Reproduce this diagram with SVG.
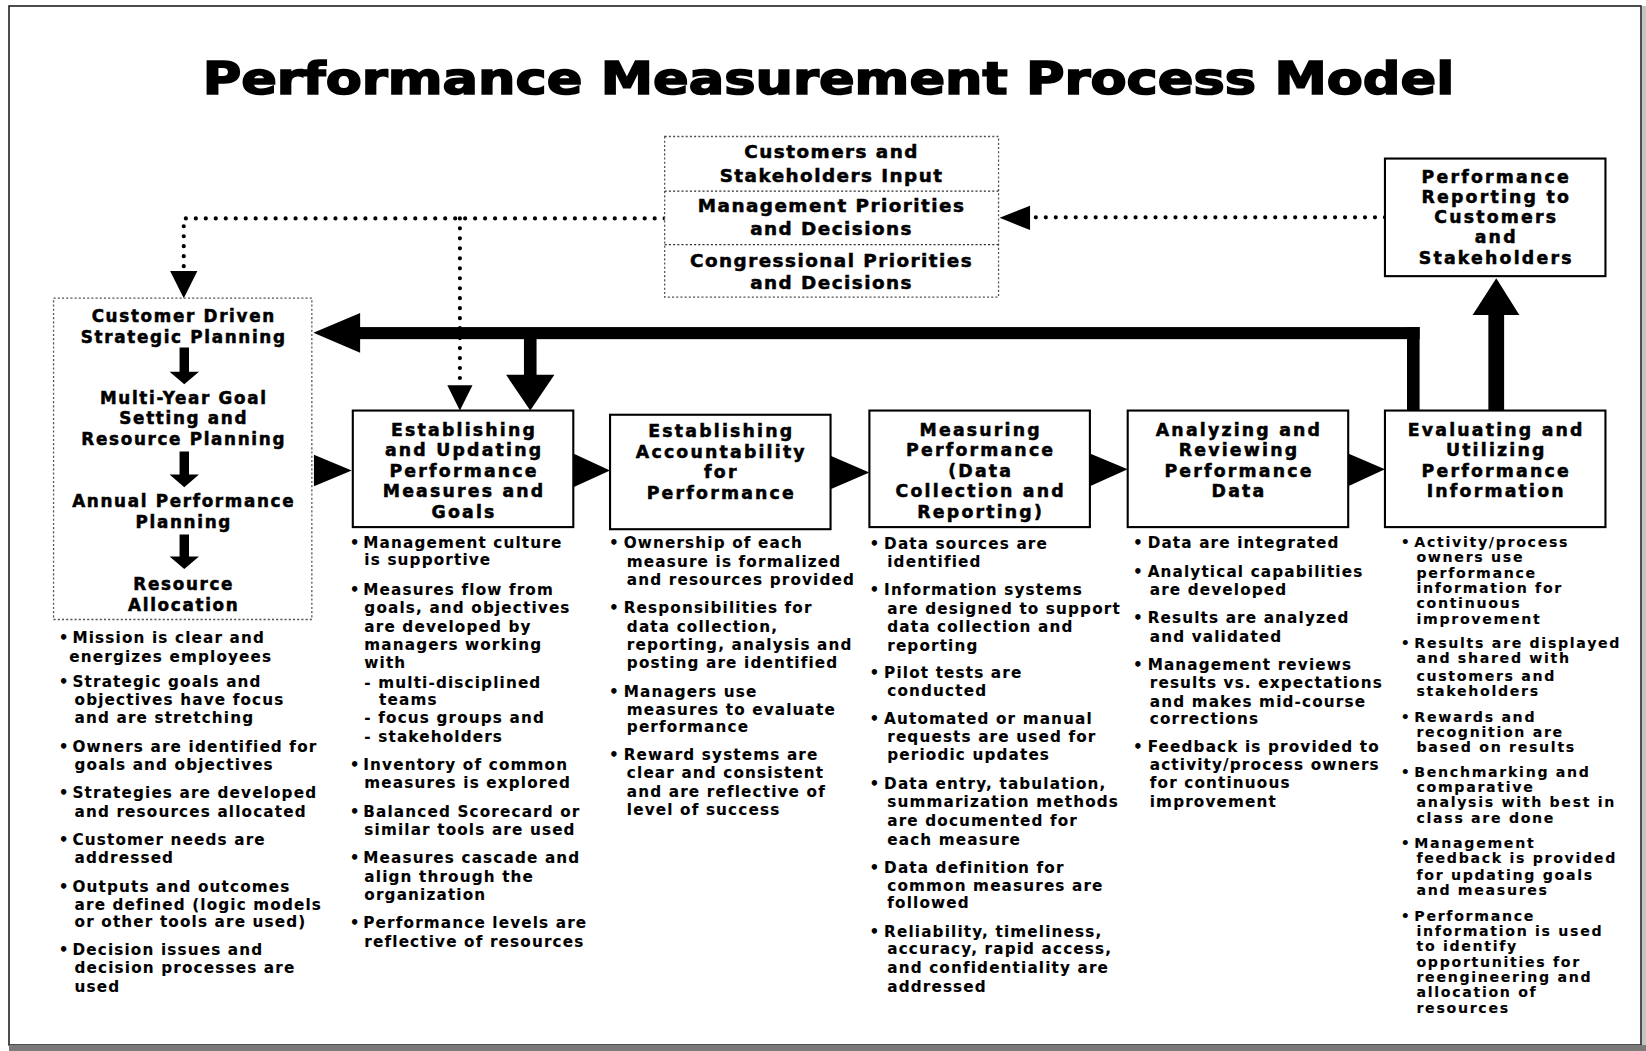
<svg xmlns="http://www.w3.org/2000/svg" width="1646" height="1051" viewBox="0 0 1646 1051">
<style>
.t{font-family:"DejaVu Sans","Liberation Sans",sans-serif;font-weight:bold;fill:#000;stroke:#000;stroke-width:0.1px}
.title{font-size:43px;stroke-width:1.6px}
.top{font-size:17.5px;letter-spacing:1.4px;text-anchor:middle;stroke-width:0.5px}
.lb{font-size:16px;letter-spacing:1.6px;text-anchor:middle;stroke-width:0.5px}
.bx{font-size:16.5px;letter-spacing:2.1px;text-anchor:middle;stroke-width:0.5px}
.bl{font-size:14.5px;letter-spacing:1.1px}
.bl6{font-size:13.5px;letter-spacing:1.6px}
.box{fill:#fff;stroke:#000;stroke-width:2}
.dbox{fill:#fff;stroke:#555;stroke-width:1.2;stroke-dasharray:2 2}
.dline{fill:none;stroke:#333;stroke-width:1.2;stroke-dasharray:2 2}
.dots{fill:none;stroke:#000;stroke-width:4;stroke-linecap:round;stroke-dasharray:0 9.5}
.ar{fill:#000}
</style>
<rect x="0" y="0" width="1646" height="1051" fill="#fff"/>
<g id="frame">
<rect x="9" y="6" width="1632" height="1039" fill="#fff" stroke="#222" stroke-width="1.6"/>
<rect x="1642" y="6" width="4" height="1045" fill="#c4c4c4"/>
<rect x="9" y="1045" width="1637" height="6" fill="#7a7a7a"/>
</g>
<g transform="scale(1.05)">
<text class="t title" x="193" y="90" textLength="1192" lengthAdjust="spacingAndGlyphs">Performance Measurement Process Model</text>

<g id="connectors">
<path class="dots" d="M633,208 H175 V256"/>
<polygon class="ar" points="162,258 188,258 175,284"/>
<path class="dots" d="M438,208 V366"/>
<polygon class="ar" points="426,367 450,367 438,391"/>
<path class="dots" d="M1319,207 H983"/>
<polygon class="ar" points="981,196 981,219 952,207.5"/>
<rect class="ar" x="1340" y="311.5" width="12" height="80"/>
<rect class="ar" x="340" y="311.5" width="1012" height="11.5"/>
<polygon class="ar" points="343,298 298.5,317 343,336"/>
<rect class="ar" x="499" y="320" width="12" height="38"/>
<polygon class="ar" points="482,357 528,357 505,391"/>
<rect class="ar" x="1417.5" y="298" width="15" height="94"/>
<polygon class="ar" points="1402.5,300 1447,300 1425,265"/>
<polygon class="ar" points="299,433 335,448 299,463"/>
<polygon class="ar" points="546,432 581,448 546,464"/>
<polygon class="ar" points="791,434 828,450 791,466"/>
<polygon class="ar" points="1038,432 1074,447 1038,463"/>
<polygon class="ar" points="1284,432 1319,447 1284,463"/>
</g>

<g id="inputs">
<rect class="dbox" x="633" y="130" width="318" height="153"/>
<line class="dline" x1="633" y1="182" x2="951" y2="182"/>
<line class="dline" x1="633" y1="233" x2="951" y2="233"/>
<text class="t top"><tspan x="792" y="150">Customers and</tspan><tspan x="792" y="173.5">Stakeholders Input</tspan><tspan x="792" y="201.5">Management Priorities</tspan><tspan x="792" y="224">and Decisions</tspan><tspan x="792" y="254">Congressional Priorities</tspan><tspan x="792" y="275">and Decisions</tspan></text>
</g>

<g id="planning">
<rect class="dbox" x="51" y="284" width="246" height="306"/>
<text class="t lb"><tspan x="175" y="307">Customer Driven</tspan><tspan x="175" y="327">Strategic Planning</tspan><tspan x="175" y="385">Multi-Year Goal</tspan><tspan x="175" y="404">Setting and</tspan><tspan x="175" y="424">Resource Planning</tspan><tspan x="175" y="483">Annual Performance</tspan><tspan x="175" y="503">Planning</tspan><tspan x="175" y="562">Resource</tspan><tspan x="175" y="582">Allocation</tspan></text>
<polygon class="ar" points="171,331 180,331 180,354 189.5,354 175.5,366 161.5,354 171,354"/>
<polygon class="ar" points="171,430 180,430 180,452 189.5,452 175.5,464 161.5,452 171,452"/>
<polygon class="ar" points="171,509 180,509 180,530 189.5,530 175.5,542 161.5,530 171,530"/>
<text class="t bl"><tspan x="56" y="612.7">•</tspan><tspan x="56" y="654">•</tspan><tspan x="56" y="715.9">•</tspan><tspan x="56" y="760.3">•</tspan><tspan x="56" y="804.8">•</tspan><tspan x="56" y="849.2">•</tspan><tspan x="56" y="909.5">•</tspan></text>
<text class="t bl"><tspan x="69" y="612.7">Mission is clear and</tspan><tspan x="66" y="630.2">energizes employees</tspan><tspan x="69" y="654">Strategic goals and</tspan><tspan x="71" y="671.4">objectives have focus</tspan><tspan x="71" y="688.9">and are stretching</tspan><tspan x="69" y="715.9">Owners are identified for</tspan><tspan x="71" y="733.3">goals and objectives</tspan><tspan x="69" y="760.3">Strategies are developed</tspan><tspan x="71" y="777.8">and resources allocated</tspan><tspan x="69" y="804.8">Customer needs are</tspan><tspan x="71" y="822.2">addressed</tspan><tspan x="69" y="849.2">Outputs and outcomes</tspan><tspan x="71" y="866.7">are defined (logic models</tspan><tspan x="71" y="883.2">or other tools are used)</tspan><tspan x="69" y="909.5">Decision issues and</tspan><tspan x="71" y="927">decision processes are</tspan><tspan x="71" y="944.5">used</tspan></text>
</g>

<g id="measures">
<rect class="box" x="336" y="391" width="210" height="111"/>
<text class="t bx"><tspan x="442" y="415">Establishing</tspan><tspan x="442" y="434.5">and Updating</tspan><tspan x="442" y="454">Performance</tspan><tspan x="442" y="473.5">Measures and</tspan><tspan x="442" y="493">Goals</tspan></text>
<text class="t bl"><tspan x="333" y="522.2">•</tspan><tspan x="333" y="566.7">•</tspan><tspan x="333" y="733.3">•</tspan><tspan x="333" y="777.8">•</tspan><tspan x="333" y="822.2">•</tspan><tspan x="333" y="884.1">•</tspan></text>
<text class="t bl"><tspan x="346" y="522.2">Management culture</tspan><tspan x="347" y="538">is supportive</tspan><tspan x="346" y="566.7">Measures flow from</tspan><tspan x="347" y="584">goals, and objectives</tspan><tspan x="347" y="601.6">are developed by</tspan><tspan x="347" y="619">managers working</tspan><tspan x="347" y="636.5">with</tspan><tspan x="347" y="655.6">- multi-disciplined</tspan><tspan x="361" y="671.4">teams</tspan><tspan x="347" y="688.9">- focus groups and</tspan><tspan x="347" y="706.3">- stakeholders</tspan><tspan x="346" y="733.3">Inventory of common</tspan><tspan x="347" y="750.8">measures is explored</tspan><tspan x="346" y="777.8">Balanced Scorecard or</tspan><tspan x="347" y="795.2">similar tools are used</tspan><tspan x="346" y="822.2">Measures cascade and</tspan><tspan x="347" y="839.7">align through the</tspan><tspan x="347" y="857.1">organization</tspan><tspan x="346" y="884.1">Performance levels are</tspan><tspan x="347" y="901.6">reflective of resources</tspan></text>
</g>

<g id="accountability">
<rect class="box" x="581" y="395" width="210" height="109"/>
<text class="t bx"><tspan x="687" y="416">Establishing</tspan><tspan x="687" y="436">Accountability</tspan><tspan x="687" y="455">for</tspan><tspan x="687" y="475">Performance</tspan></text>
<text class="t bl"><tspan x="580" y="522.2">•</tspan><tspan x="580" y="584.1">•</tspan><tspan x="580" y="663.5">•</tspan><tspan x="580" y="723.8">•</tspan></text>
<text class="t bl"><tspan x="594" y="522.2">Ownership of each</tspan><tspan x="597" y="539.7">measure is formalized</tspan><tspan x="597" y="557.1">and resources provided</tspan><tspan x="594" y="584.1">Responsibilities for</tspan><tspan x="597" y="601.6">data collection,</tspan><tspan x="597" y="619">reporting, analysis and</tspan><tspan x="597" y="636.5">posting are identified</tspan><tspan x="594" y="663.5">Managers use</tspan><tspan x="597" y="681">measures to evaluate</tspan><tspan x="597" y="696.8">performance</tspan><tspan x="594" y="723.8">Reward systems are</tspan><tspan x="597" y="741.3">clear and consistent</tspan><tspan x="597" y="758.7">and are reflective of</tspan><tspan x="597" y="776.2">level of success</tspan></text>
</g>

<g id="measuring">
<rect class="box" x="828" y="391" width="210" height="111"/>
<text class="t bx"><tspan x="934" y="415">Measuring</tspan><tspan x="934" y="434.5">Performance</tspan><tspan x="934" y="454">(Data</tspan><tspan x="934" y="473.5">Collection and</tspan><tspan x="934" y="493">Reporting)</tspan></text>
<text class="t bl"><tspan x="828" y="523">•</tspan><tspan x="828" y="567">•</tspan><tspan x="828" y="646">•</tspan><tspan x="828" y="690">•</tspan><tspan x="828" y="751">•</tspan><tspan x="828" y="831">•</tspan><tspan x="828" y="892">•</tspan></text>
<text class="t bl"><tspan x="842" y="523">Data sources are</tspan><tspan x="845" y="540">identified</tspan><tspan x="842" y="567">Information systems</tspan><tspan x="845" y="585">are designed to support</tspan><tspan x="845" y="602">data collection and</tspan><tspan x="845" y="620">reporting</tspan><tspan x="842" y="646">Pilot tests are</tspan><tspan x="845" y="663">conducted</tspan><tspan x="842" y="690">Automated or manual</tspan><tspan x="845" y="707">requests are used for</tspan><tspan x="845" y="724">periodic updates</tspan><tspan x="842" y="751">Data entry, tabulation,</tspan><tspan x="845" y="769">summarization methods</tspan><tspan x="845" y="787">are documented for</tspan><tspan x="845" y="805">each measure</tspan><tspan x="842" y="831">Data definition for</tspan><tspan x="845" y="849">common measures are</tspan><tspan x="845" y="865">followed</tspan><tspan x="842" y="892">Reliability, timeliness,</tspan><tspan x="845" y="909">accuracy, rapid access,</tspan><tspan x="845" y="927">and confidentiality are</tspan><tspan x="845" y="945">addressed</tspan></text>
</g>

<g id="analyzing">
<rect class="box" x="1074" y="391" width="210" height="111"/>
<text class="t bx"><tspan x="1180" y="415">Analyzing and</tspan><tspan x="1180" y="434.5">Reviewing</tspan><tspan x="1180" y="454">Performance</tspan><tspan x="1180" y="473.5">Data</tspan></text>
<text class="t bl"><tspan x="1079" y="522.2">•</tspan><tspan x="1079" y="549.2">•</tspan><tspan x="1079" y="593.7">•</tspan><tspan x="1079" y="638.1">•</tspan><tspan x="1079" y="715.9">•</tspan></text>
<text class="t bl"><tspan x="1093" y="522.2">Data are integrated</tspan><tspan x="1093" y="549.2">Analytical capabilities</tspan><tspan x="1095" y="566.7">are developed</tspan><tspan x="1093" y="593.7">Results are analyzed</tspan><tspan x="1095" y="611.1">and validated</tspan><tspan x="1093" y="638.1">Management reviews</tspan><tspan x="1095" y="655.6">results vs. expectations</tspan><tspan x="1095" y="673">and makes mid-course</tspan><tspan x="1095" y="689.5">corrections</tspan><tspan x="1093" y="715.9">Feedback is provided to</tspan><tspan x="1095" y="733.3">activity/process owners</tspan><tspan x="1095" y="750.8">for continuous</tspan><tspan x="1095" y="768.9">improvement</tspan></text>
</g>

<g id="evaluating">
<rect class="box" x="1319" y="391" width="210" height="111"/>
<text class="t bx"><tspan x="1425" y="415">Evaluating and</tspan><tspan x="1425" y="434.5">Utilizing</tspan><tspan x="1425" y="454">Performance</tspan><tspan x="1425" y="473.5">Information</tspan></text>
<text class="t bl6"><tspan x="1334" y="521.3">•</tspan><tspan x="1334" y="617.5">•</tspan><tspan x="1334" y="687.3">•</tspan><tspan x="1334" y="740.3">•</tspan><tspan x="1334" y="807.9">•</tspan><tspan x="1334" y="876.8">•</tspan></text>
<text class="t bl6"><tspan x="1347" y="521.3">Activity/process</tspan><tspan x="1349" y="534.9">owners use</tspan><tspan x="1349" y="550.8">performance</tspan><tspan x="1349" y="565">information for</tspan><tspan x="1349" y="579.4">continuous</tspan><tspan x="1349" y="594.6">improvement</tspan><tspan x="1347" y="617.5">Results are displayed</tspan><tspan x="1349" y="631.7">and shared with</tspan><tspan x="1349" y="648.3">customers and</tspan><tspan x="1349" y="662.5">stakeholders</tspan><tspan x="1347" y="687.3">Rewards and</tspan><tspan x="1349" y="701.6">recognition are</tspan><tspan x="1349" y="715.9">based on results</tspan><tspan x="1347" y="740.3">Benchmarking and</tspan><tspan x="1349" y="754.6">comparative</tspan><tspan x="1349" y="768.9">analysis with best in</tspan><tspan x="1349" y="784.1">class are done</tspan><tspan x="1347" y="807.9">Management</tspan><tspan x="1349" y="822.2">feedback is provided</tspan><tspan x="1349" y="838.1">for updating goals</tspan><tspan x="1349" y="852.4">and measures</tspan><tspan x="1347" y="876.8">Performance</tspan><tspan x="1349" y="891.1">information is used</tspan><tspan x="1349" y="905.4">to identify</tspan><tspan x="1349" y="920.6">opportunities for</tspan><tspan x="1349" y="934.9">reengineering and</tspan><tspan x="1349" y="949.2">allocation of</tspan><tspan x="1349" y="965">resources</tspan></text>
</g>

<g id="reporting">
<rect class="box" x="1319" y="151" width="210" height="112"/>
<text class="t bx"><tspan x="1425" y="174">Performance</tspan><tspan x="1425" y="193.5">Reporting to</tspan><tspan x="1425" y="212.5">Customers</tspan><tspan x="1425" y="231.5">and</tspan><tspan x="1425" y="251">Stakeholders</tspan></text>
</g>
</g>
</svg>
